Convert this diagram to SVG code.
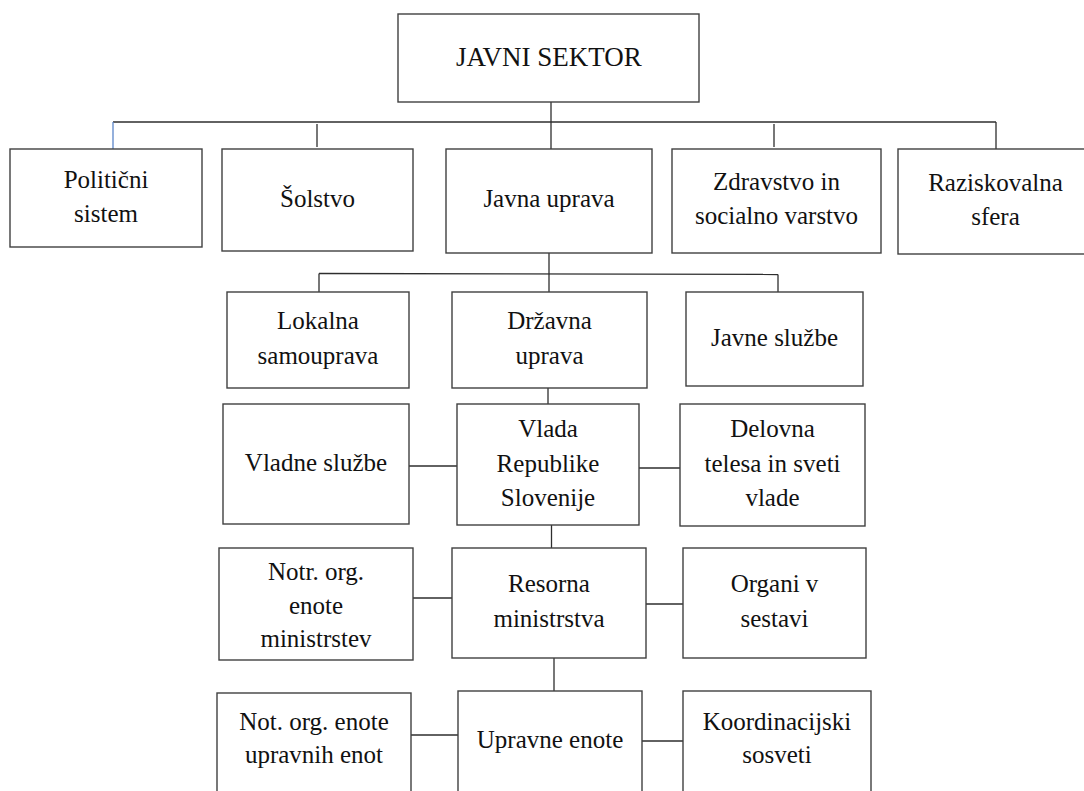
<svg xmlns="http://www.w3.org/2000/svg" width="1084" height="791" viewBox="0 0 1084 791">
<style>
.box{fill:#ffffff;stroke:#404040;stroke-width:1.4}
text{font-family:"Liberation Serif","Times New Roman",serif;font-size:25px;fill:#111111;text-anchor:middle}
.big{font-size:27px}
.ln{stroke:#2e2e2e;stroke-width:1.3;fill:none}
.blue{stroke:#5b86c9;stroke-width:1.3;fill:none}
</style>
<rect x="0" y="0" width="1084" height="791" fill="#ffffff"/>
<g id="connectors">
<line class="ln" x1="551" y1="102" x2="551" y2="149"/>
<line class="ln" x1="113" y1="122" x2="996" y2="122"/>
<line class="blue" x1="113" y1="122" x2="113" y2="149"/>
<line class="ln" x1="317" y1="124" x2="317" y2="147"/>
<line class="ln" x1="774" y1="124" x2="774" y2="147"/>
<line class="ln" x1="996" y1="122" x2="996" y2="149"/>
<line class="ln" x1="549" y1="253" x2="549" y2="292"/>
<line class="ln" x1="319" y1="273.5" x2="778" y2="274.5"/>
<line class="ln" x1="319" y1="273.5" x2="319" y2="292"/>
<line class="ln" x1="778" y1="274.5" x2="778" y2="292"/>
<line class="ln" x1="548" y1="388" x2="548" y2="404"/>
<line class="ln" x1="409" y1="466" x2="457" y2="466"/>
<line class="ln" x1="639" y1="468" x2="680" y2="468"/>
<line class="ln" x1="551.5" y1="525" x2="551.5" y2="548"/>
<line class="ln" x1="413" y1="598" x2="452" y2="598"/>
<line class="ln" x1="646" y1="604" x2="683" y2="604"/>
<line class="ln" x1="554" y1="658" x2="554" y2="691"/>
<line class="ln" x1="411" y1="735" x2="458" y2="735"/>
<line class="ln" x1="642" y1="741" x2="683" y2="741"/>
</g>
<g id="javni-sektor">
<rect class="box" x="398" y="14" width="301" height="88"/>
<text class="big" x="549" y="66">JAVNI SEKTOR</text>
</g>
<g id="politicni-sistem">
<rect class="box" x="10" y="149" width="192" height="98"/>
<text x="106" y="188">Politični</text>
<text x="106" y="222">sistem</text>
</g>
<g id="solstvo">
<rect class="box" x="222" y="149" width="191" height="102"/>
<text x="317.5" y="207">Šolstvo</text>
</g>
<g id="javna-uprava">
<rect class="box" x="446" y="149" width="206" height="104"/>
<text x="549" y="207">Javna uprava</text>
</g>
<g id="zdravstvo">
<rect class="box" x="672" y="149" width="209" height="104"/>
<text x="776.5" y="190">Zdravstvo in</text>
<text x="776.5" y="224">socialno varstvo</text>
</g>
<g id="raziskovalna-sfera">
<rect class="box" x="898" y="149" width="195" height="105"/>
<text x="995.5" y="191">Raziskovalna</text>
<text x="995.5" y="225">sfera</text>
</g>
<g id="lokalna-samouprava">
<rect class="box" x="227" y="292" width="182" height="96"/>
<text x="318" y="329">Lokalna</text>
<text x="318" y="364">samouprava</text>
</g>
<g id="drzavna-uprava">
<rect class="box" x="452" y="292" width="195" height="96"/>
<text x="549.5" y="329">Državna</text>
<text x="549.5" y="364">uprava</text>
</g>
<g id="javne-sluzbe">
<rect class="box" x="686" y="292" width="177" height="94"/>
<text x="774.5" y="346">Javne službe</text>
</g>
<g id="vladne-sluzbe">
<rect class="box" x="223" y="404" width="186" height="120"/>
<text x="316" y="471">Vladne službe</text>
</g>
<g id="vlada-rs">
<rect class="box" x="457" y="404" width="182" height="121"/>
<text x="548" y="437">Vlada</text>
<text x="548" y="472">Republike</text>
<text x="548" y="506">Slovenije</text>
</g>
<g id="delovna-telesa">
<rect class="box" x="680" y="404" width="185" height="122"/>
<text x="772.5" y="437">Delovna</text>
<text x="772.5" y="472">telesa in sveti</text>
<text x="772.5" y="506">vlade</text>
</g>
<g id="notr-org-enote">
<rect class="box" x="219" y="548" width="194" height="112"/>
<text x="316" y="580">Notr. org.</text>
<text x="316" y="613.5">enote</text>
<text x="316" y="647">ministrstev</text>
</g>
<g id="resorna-ministrstva">
<rect class="box" x="452" y="548" width="194" height="110"/>
<text x="549" y="592">Resorna</text>
<text x="549" y="627">ministrstva</text>
</g>
<g id="organi-v-sestavi">
<rect class="box" x="683" y="548" width="183" height="110"/>
<text x="774.5" y="592">Organi v</text>
<text x="774.5" y="627">sestavi</text>
</g>
<g id="not-org-enote">
<rect class="box" x="217" y="693" width="194" height="110"/>
<text x="314" y="730">Not. org. enote</text>
<text x="314" y="763">upravnih enot</text>
</g>
<g id="upravne-enote">
<rect class="box" x="458" y="691" width="184" height="112"/>
<text x="550" y="748">Upravne enote</text>
</g>
<g id="koordinacijski-sosveti">
<rect class="box" x="683" y="691" width="188" height="112"/>
<text x="777" y="730">Koordinacijski</text>
<text x="777" y="763">sosveti</text>
</g>
</svg>
